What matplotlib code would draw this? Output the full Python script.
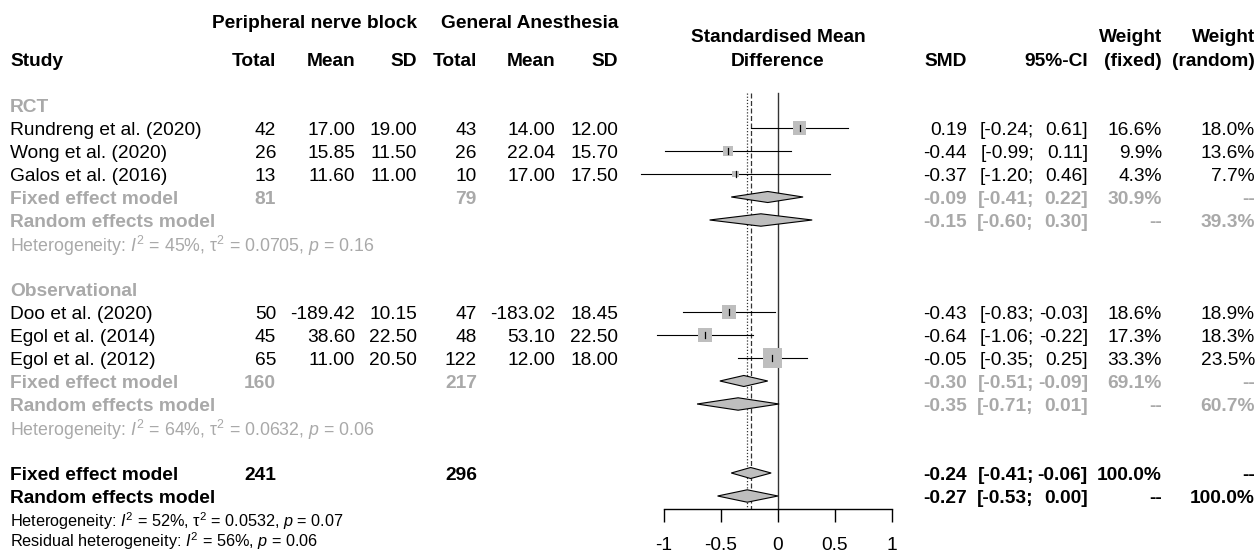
import matplotlib
matplotlib.use('Agg')
import matplotlib.pyplot as plt
from matplotlib.patches import Rectangle, Polygon
import numpy as np

plt.rcParams['font.family'] = 'Liberation Sans'
plt.rcParams['mathtext.fontset'] = 'custom'
plt.rcParams['mathtext.rm'] = 'Liberation Sans'
plt.rcParams['mathtext.it'] = 'Liberation Sans:italic'

# ---- study data ----
studies = ['Rundreng et al. (2020)', 'Wong et al. (2020)', 'Galos et al. (2016)',
           'Doo et al. (2020)', 'Egol et al. (2014)', 'Egol et al. (2012)']
pnb_n = [42, 26, 13, 50, 45, 65]
pnb_mean = [17.00, 15.85, 11.60, -189.42, 38.60, 11.00]
pnb_sd = [19.00, 11.50, 11.00, 10.15, 22.50, 20.50]
ga_n = [43, 26, 10, 47, 48, 122]
ga_mean = [14.00, 22.04, 17.00, -183.02, 53.10, 12.00]
ga_sd = [12.00, 15.70, 17.50, 18.45, 22.50, 18.00]
smd = [0.19, -0.44, -0.37, -0.43, -0.64, -0.05]
ci_lo = [-0.24, -0.99, -1.20, -0.83, -1.06, -0.35]
ci_hi = [0.61, 0.11, 0.46, -0.03, -0.22, 0.25]
w_fixed = [16.6, 9.9, 4.3, 18.6, 17.3, 33.3]
w_random = [18.0, 13.6, 7.7, 18.9, 18.3, 23.5]

# ---- subgroup summaries ----
sub_names = ['RCT', 'Observational']
sub_members = [[0, 1, 2], [3, 4, 5]]
sub_n_pnb = [81, 160]
sub_n_ga = [79, 217]
sub_fe = [-0.09, -0.30]
sub_fe_lo = [-0.41, -0.51]
sub_fe_hi = [0.22, -0.09]
sub_fe_w = [30.9, 69.1]
sub_re = [-0.15, -0.35]
sub_re_lo = [-0.60, -0.71]
sub_re_hi = [0.30, 0.01]
sub_re_w = [39.3, 60.7]
sub_i2 = ['45%', '64%']
sub_tau2 = ['0.0705', '0.0632']
sub_p = ['0.16', '0.06']

# ---- overall ----
tot_n_pnb, tot_n_ga = 241, 296
tot_fe, tot_fe_lo, tot_fe_hi = -0.24, -0.41, -0.06
tot_re, tot_re_lo, tot_re_hi = -0.27, -0.53, 0.00
tot_i2, tot_tau2, tot_p = '52%', '0.0532', '0.07'
res_i2, res_p = '56%', '0.06'

ticks = [-1, -0.5, 0, 0.5, 1]

# ---- layout ----
W, H = 1257, 552
ROW0, ROWH = 105, 23          # pixel y of first row, row height
PX_ZERO, PX_UNIT = 778, 114   # pixel x of SMD 0, pixels per SMD unit
ylim = ((H - ROW0) / ROWH, -ROW0 / ROWH)

FS = 13.8
FS_HET_SUB = 12.8
FS_HET = 11.7
GRAY = '#A9A9A9'
BOX = '#BEBEBE'

fig = plt.figure(figsize=(W / 100, H / 100), dpi=100)
tab = fig.add_axes([0, 0, 1, 1])
tab.set_xlim(0, W)
tab.set_ylim(*ylim)
tab.axis('off')

ax_l, ax_r = 600, 960
ax = fig.add_axes([ax_l / W, 0, (ax_r - ax_l) / W, 1])
ax.set_xlim((ax_l - PX_ZERO) / PX_UNIT, (ax_r - PX_ZERO) / PX_UNIT)
ax.set_ylim(*ylim)
ax.patch.set_alpha(0)

# column right edges (px)
C_STUDY = 10
C_PN, C_PM, C_PS = 276, 355, 417
C_GN, C_GM, C_GS = 477, 555, 618
C_SMD, C_CIL, C_CIH = 967, 1034, 1088
C_WF, C_WR = 1162, 1255


def t(x, y, s, ha='right', color='black', weight='normal', size=FS):
    tab.text(x, y, s, ha=ha, va='center_baseline', fontsize=size, color=color,
             fontweight=weight)


def het_text(i2, p, tau2=None):
    s = r'$\mathit{I}^2$ = ' + i2
    if tau2 is not None:
        s += r', $\mathrm{\tau}^2$ = ' + tau2
    return s + r', $\mathit{p}$ = ' + p


# headers
hy1, hy2, hym = (21 - ROW0) / ROWH, (59 - ROW0) / ROWH, (36 - ROW0) / ROWH
t(C_PS, hy1, 'Peripheral nerve block', weight='bold')
t(C_GS, hy1, 'General Anesthesia', weight='bold')
t(C_STUDY, hy2, 'Study', ha='left', weight='bold')
for x, s in [(C_PN, 'Total'), (C_PM, 'Mean'), (C_PS, 'SD'),
             (C_GN, 'Total'), (C_GM, 'Mean'), (C_GS, 'SD'),
             (C_SMD, 'SMD'), (C_CIH, '95%-CI'), (C_WF, '(fixed)'), (C_WR, '(random)')]:
    t(x, hy2, s, weight='bold')
t(C_WF, hym, 'Weight', weight='bold')
t(C_WR, hym, 'Weight', weight='bold')
t(PX_ZERO, hym, 'Standardised Mean', ha='center', weight='bold')
t(PX_ZERO, hy2, 'Difference', ha='center', weight='bold')


def ci_text(y, lo, hi, color, weight):
    t(C_CIL, y, f'[{lo:.2f};', color=color, weight=weight)
    t(C_CIH, y, f'{hi:.2f}]', color=color, weight=weight)


def diamond(y, est, lo, hi, h=0.27):
    ax.add_patch(Polygon([(lo, y), (est, y - h), (hi, y), (est, y + h)],
                         closed=True, facecolor=BOX, edgecolor='black', lw=0.8, zorder=4))


row = 0
for g, name in enumerate(sub_names):
    t(C_STUDY, row, name, ha='left', color=GRAY, weight='bold')
    row += 1
    for k in sub_members[g]:
        t(C_STUDY, row, studies[k], ha='left')
        t(C_PN, row, str(pnb_n[k]))
        t(C_PM, row, f'{pnb_mean[k]:.2f}')
        t(C_PS, row, f'{pnb_sd[k]:.2f}')
        t(C_GN, row, str(ga_n[k]))
        t(C_GM, row, f'{ga_mean[k]:.2f}')
        t(C_GS, row, f'{ga_sd[k]:.2f}')
        t(C_SMD, row, f'{smd[k]:.2f}')
        ci_text(row, ci_lo[k], ci_hi[k], 'black', 'normal')
        t(C_WF, row, f'{w_fixed[k]:.1f}%')
        t(C_WR, row, f'{w_random[k]:.1f}%')
        # CI line, box sized by fixed weight, centre tick
        ax.plot([ci_lo[k], ci_hi[k]], [row, row], color='black', lw=0.8, zorder=3)
        side = 3.35 * np.sqrt(w_fixed[k])
        bw, bh = side / PX_UNIT, side / ROWH
        ax.add_patch(Rectangle((smd[k] - bw / 2, row - bh / 2), bw, bh,
                               facecolor=BOX, edgecolor='none', zorder=4))
        ax.plot([smd[k], smd[k]], [row - 0.11, row + 0.11], color='black', lw=0.9, zorder=5)
        row += 1
    # fixed effect subgroup
    t(C_STUDY, row, 'Fixed effect model', ha='left', color=GRAY, weight='bold')
    t(C_PN, row, str(sub_n_pnb[g]), color=GRAY, weight='bold')
    t(C_GN, row, str(sub_n_ga[g]), color=GRAY, weight='bold')
    t(C_SMD, row, f'{sub_fe[g]:.2f}', color=GRAY, weight='bold')
    ci_text(row, sub_fe_lo[g], sub_fe_hi[g], GRAY, 'bold')
    t(C_WF, row, f'{sub_fe_w[g]:.1f}%', color=GRAY, weight='bold')
    t(C_WR, row, '--', color=GRAY, weight='bold')
    diamond(row, sub_fe[g], sub_fe_lo[g], sub_fe_hi[g], h=0.24)
    row += 1
    # random effects subgroup
    t(C_STUDY, row, 'Random effects model', ha='left', color=GRAY, weight='bold')
    t(C_SMD, row, f'{sub_re[g]:.2f}', color=GRAY, weight='bold')
    ci_text(row, sub_re_lo[g], sub_re_hi[g], GRAY, 'bold')
    t(C_WF, row, '--', color=GRAY, weight='bold')
    t(C_WR, row, f'{sub_re_w[g]:.1f}%', color=GRAY, weight='bold')
    diamond(row, sub_re[g], sub_re_lo[g], sub_re_hi[g])
    row += 1
    t(C_STUDY, row, 'Heterogeneity: ' + het_text(sub_i2[g], sub_p[g], sub_tau2[g]),
      ha='left', color=GRAY, size=FS_HET_SUB)
    row += 2

# overall
t(C_STUDY, row, 'Fixed effect model', ha='left', weight='bold')
t(C_PN, row, str(tot_n_pnb), weight='bold')
t(C_GN, row, str(tot_n_ga), weight='bold')
t(C_SMD, row, f'{tot_fe:.2f}', weight='bold')
ci_text(row, tot_fe_lo, tot_fe_hi, 'black', 'bold')
t(C_WF, row, '100.0%', weight='bold')
t(C_WR, row, '--', weight='bold')
diamond(row, tot_fe, tot_fe_lo, tot_fe_hi, h=0.24)
row += 1
t(C_STUDY, row, 'Random effects model', ha='left', weight='bold')
t(C_SMD, row, f'{tot_re:.2f}', weight='bold')
ci_text(row, tot_re_lo, tot_re_hi, 'black', 'bold')
t(C_WF, row, '--', weight='bold')
t(C_WR, row, '100.0%', weight='bold')
diamond(row, tot_re, tot_re_lo, tot_re_hi)
row += 1
t(C_STUDY, row, 'Heterogeneity: ' + het_text(tot_i2, tot_p, tot_tau2), ha='left',
  size=FS_HET)
row += 1
t(C_STUDY, row - 0.15, 'Residual heterogeneity: ' + het_text(res_i2, res_p), ha='left',
  size=FS_HET)

# reference lines
y_top = (93 - ROW0) / ROWH
y_axis = (509 - ROW0) / ROWH
ax.plot([0, 0], [y_top, y_axis], color='#333333', lw=1.0, zorder=2)
ax.plot([tot_fe, tot_fe], [y_top, y_axis], color='#333333', lw=0.9,
        linestyle=(0, (4, 2)), zorder=2)
ax.plot([tot_re, tot_re], [y_top, y_axis], color='#333333', lw=0.9,
        linestyle=(0, (1, 1.5)), zorder=2)

# x axis
for s in ['top', 'right', 'left']:
    ax.spines[s].set_visible(False)
ax.spines['bottom'].set_position(('data', y_axis))
ax.spines['bottom'].set_bounds(ticks[0], ticks[-1])
ax.spines['bottom'].set_linewidth(1.0)
ax.set_xticks(ticks)
ax.set_xticklabels(['-1', '-0.5', '0', '0.5', '1'])
ax.tick_params(axis='x', direction='out', length=9, width=1.0, labelsize=FS, pad=11)
ax.set_yticks([])

fig.savefig('out.png', dpi=100, facecolor='white')
